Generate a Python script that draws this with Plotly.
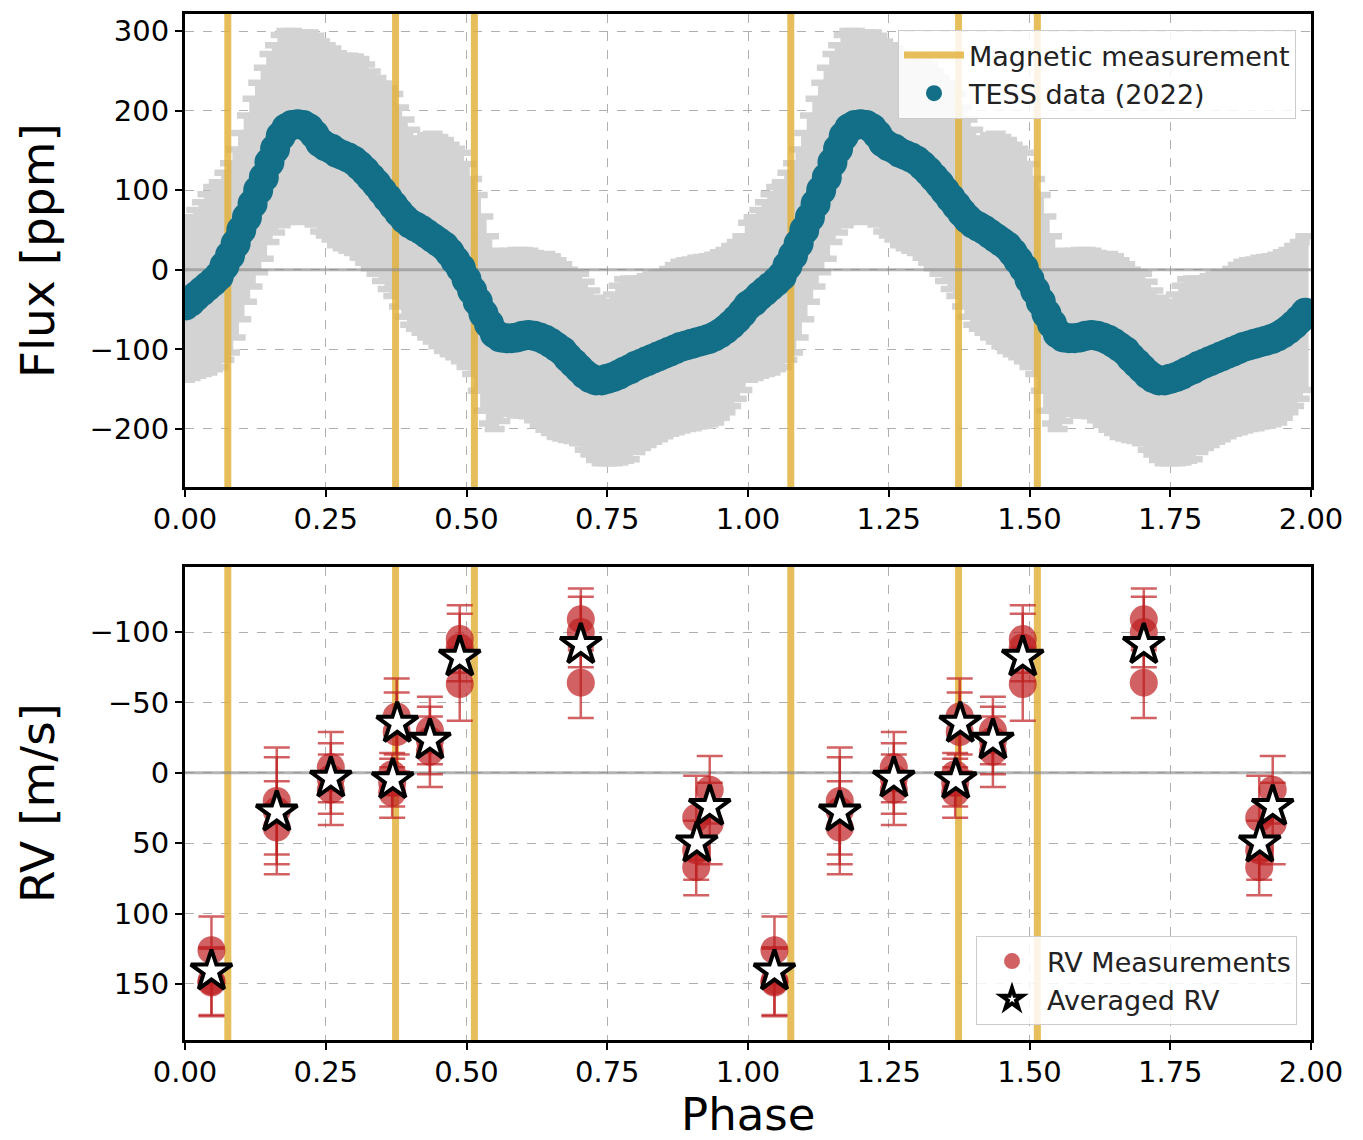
import plotly.graph_objects as go
import numpy as np

# ---------------- data ----------------
# TESS folded light curve (one cycle, phase 0.00 .. 0.99)
tess_phase = [round(i * 0.01, 2) for i in range(100)]
tess_flux = [
    -45, -40, -33, -27, -21, -15, -8, 5, 18, 33,
    50, 66, 83, 100, 116, 135, 152, 168, 178, 182,
    183, 182, 178, 170, 160, 155, 152, 147, 144, 141,
    137, 131, 124, 116, 108, 99, 90, 81, 72, 64,
    58, 54, 50, 45, 40, 35, 30, 22, 12, 2,
    -12, -26, -40, -55, -68, -80, -85, -86, -86, -85,
    -83, -82, -83, -85, -88, -92, -97, -102, -110, -117,
    -124, -131, -136, -139, -139, -137, -135, -132, -128, -125,
    -121, -118, -115, -112, -109, -106, -103, -100, -97, -95,
    -93, -91, -89, -87, -84, -80, -75, -69, -62, -54,
]
tess_err_plus = [
    104, 106, 108, 112, 116, 119, 118, 117, 116, 118,
    122, 128, 132, 135, 138, 136, 130, 127, 122, 118,
    114, 116, 120, 124, 127, 127, 126, 125, 125, 128,
    131, 134, 134, 133, 133, 135, 138, 140, 132, 125,
    118, 110, 115, 124, 131, 132, 133, 135, 140, 145,
    145, 140, 134, 122, 110, 104, 108, 109, 110, 110,
    108, 106, 104, 104, 108, 109, 109, 109, 110, 114,
    119, 116, 110, 104, 98, 97, 104, 112, 116, 114,
    110, 107, 107, 106, 105, 103, 104, 106, 107, 107,
    106, 106, 105, 104, 103, 102, 100, 99, 97, 96,
]
tess_err_minus = [
    93, 96, 100, 104, 108, 110, 114, 118, 122, 118,
    112, 106, 104, 103, 102, 100, 105, 112, 117, 120,
    123, 120, 116, 113, 112, 112, 114, 116, 117, 117,
    116, 116, 115, 114, 113, 113, 114, 114, 118, 123,
    127, 128, 129, 130, 130, 131, 132, 128, 122, 117,
    110, 105, 112, 122, 125, 120, 105, 95, 95, 98,
    100, 102, 106, 110, 113, 113, 113, 110, 104, 98,
    94, 95, 96, 100, 104, 106, 108, 110, 112, 113,
    108, 106, 105, 104, 104, 103, 103, 104, 105, 105,
    106, 106, 107, 107, 108, 106, 104, 102, 100, 97,
]

# magnetic measurement phases
mag_phase = [0.076, 0.374, 0.514]

# RV measurements (one cycle)
rv_phase = [0.047, 0.047, 0.047,
            0.163, 0.163, 0.163,
            0.259, 0.259, 0.259,
            0.368, 0.368, 0.368,
            0.376, 0.376,
            0.435, 0.435, 0.435,
            0.488, 0.488, 0.488,
            0.703, 0.703, 0.703,
            0.908, 0.908, 0.908,
            0.932, 0.932]
rv_val = [126, 148, 149,
          20, 27, 39,
          -4, 4, 12,
          1, 7, 14,
          -40, -29,
          -30, -23, -15,
          -95, -89, -63,
          -109, -100, -64,
          32, 55, 67,
          12, 36]
rv_err = [24, 24, 24,
          38, 38, 33,
          25, 25, 25,
          15, 17, 18,
          27, 28,
          24, 24, 25,
          24, 24, 26,
          22, 25, 25,
          30, 21, 20,
          24, 29]

# averaged RV
avg_phase = [0.047, 0.163, 0.259, 0.369, 0.377, 0.435, 0.488, 0.703, 0.909, 0.932]
avg_rv = [141, 28, 4, 5, -35, -23, -82, -91, 50, 24]

x_ticks = [0.0, 0.25, 0.5, 0.75, 1.0, 1.25, 1.5, 1.75, 2.0]
flux_ticks = [-200, -100, 0, 100, 200, 300]
rv_ticks = [-100, -50, 0, 50, 100, 150]

# ---------------- styles ----------------
W, H = 1363, 1140
TEAL = "#136e87"
GOLD = "rgba(226,176,56,0.82)"
GREY_ERR = "#d3d3d3"
RED = "rgba(190,30,32,0.70)"
FONT = "DejaVu Sans"

def dup(arr, shift=False):
    a = np.asarray(arr, dtype=float)
    if shift:
        return np.concatenate([a, a + 1.0])
    return np.concatenate([a, a])

fig = go.Figure()

# ---- top panel ----
fig.add_trace(go.Scatter(
    x=dup(tess_phase, True), y=dup(tess_flux),
    mode="markers", marker=dict(size=4, color="rgba(0,0,0,0)"),
    error_y=dict(type="data", array=dup(tess_err_plus), arrayminus=dup(tess_err_minus),
                 symmetric=False, color=GREY_ERR, thickness=6.5, width=10),
    showlegend=False, hoverinfo="skip", xaxis="x", yaxis="y"))

for k, p in enumerate(mag_phase + [m + 1 for m in mag_phase]):
    fig.add_trace(go.Scatter(
        x=[p, p], y=[-1000, 1000], mode="lines",
        line=dict(color=GOLD, width=7),
        name="Magnetic measurement", showlegend=(k == 0), legend="legend",
        hoverinfo="skip", xaxis="x", yaxis="y"))

fig.add_trace(go.Scatter(
    x=[0, 2], y=[0, 0], mode="lines", line=dict(color="rgba(140,140,140,0.65)", width=3),
    showlegend=False, hoverinfo="skip", xaxis="x", yaxis="y"))

fig.add_trace(go.Scatter(
    x=dup(tess_phase, True), y=dup(tess_flux),
    mode="markers", marker=dict(size=30, color=TEAL, line=dict(width=0)),
    name="TESS data (2022)", legend="legend", xaxis="x", yaxis="y"))

# ---- bottom panel ----
for k, p in enumerate(mag_phase + [m + 1 for m in mag_phase]):
    fig.add_trace(go.Scatter(
        x=[p, p], y=[-1000, 1000], mode="lines",
        line=dict(color=GOLD, width=7),
        showlegend=False, hoverinfo="skip", xaxis="x2", yaxis="y2"))

fig.add_trace(go.Scatter(
    x=[0, 2], y=[0, 0], mode="lines", line=dict(color="rgba(140,140,140,0.65)", width=3),
    showlegend=False, hoverinfo="skip", xaxis="x2", yaxis="y2"))

fig.add_trace(go.Scatter(
    x=dup(rv_phase, True), y=dup(rv_val),
    mode="markers", marker=dict(size=28, color=RED, line=dict(width=0)),
    error_y=dict(type="data", array=dup(rv_err), color=RED, thickness=2.5, width=13),
    name="RV Measurements", legend="legend2", xaxis="x2", yaxis="y2"))

fig.add_trace(go.Scatter(
    x=dup(avg_phase, True), y=dup(avg_rv),
    mode="markers", marker=dict(symbol="star", size=31, color="white",
                                line=dict(color="black", width=4)),
    name="Averaged RV", legend="legend2", xaxis="x2", yaxis="y2"))

# ---------------- layout ----------------
xdom = [185 / W, 1311 / W]
top_dom = [1 - 487 / H, 1 - 14 / H]
bot_dom = [1 - 1040 / H, 1 - 567 / H]

axis_common = dict(
    showline=True, linecolor="black", linewidth=3, mirror=True,
    ticks="outside", ticklen=7, tickwidth=2, tickcolor="black",
    showgrid=True, gridcolor="#b0b0b0", griddash="dash", gridwidth=1,
    zeroline=False, automargin=False,
    tickfont=dict(family=FONT, size=29, color="black"),
)

fig.update_layout(
    width=W, height=H,
    margin=dict(l=0, r=0, t=0, b=0, autoexpand=False),
    paper_bgcolor="white", plot_bgcolor="white",
    font=dict(family=FONT, color="black"),
    xaxis=dict(domain=xdom, anchor="y", range=[0, 2], tickvals=x_ticks,
               ticktext=[f"{v:.2f}" for v in x_ticks], ticklabelstandoff=-3, **axis_common),
    yaxis=dict(domain=top_dom, anchor="x", range=[-272.9, 321.4], tickvals=flux_ticks,
               **axis_common),
    xaxis2=dict(domain=xdom, anchor="y2", range=[0, 2], tickvals=x_ticks,
                ticktext=[f"{v:.2f}" for v in x_ticks], ticklabelstandoff=-3, **axis_common),
    yaxis2=dict(domain=bot_dom, anchor="x2", range=[189.8, -146.2], tickvals=rv_ticks,
                **axis_common),
    legend=dict(x=1296 / W, y=1 - 30 / H, xanchor="right", yanchor="top",
                bgcolor="rgba(255,255,255,0.85)", bordercolor="#cccccc", borderwidth=1,
                font=dict(family=FONT, size=27, color="#222222"), itemsizing="trace",
                itemwidth=60),
    legend2=dict(x=1297 / W, y=1 - 1025 / H, xanchor="right", yanchor="bottom",
                 bgcolor="rgba(255,255,255,0.85)", bordercolor="#cccccc", borderwidth=1,
                 font=dict(family=FONT, size=27, color="#222222"), itemsizing="trace",
                 itemwidth=60),
    annotations=[
        dict(text="Flux [ppm]", x=37 / W, y=1 - 251 / H, xref="paper", yref="paper",
             textangle=-90, showarrow=False, font=dict(family=FONT, size=47, color="black"),
             xanchor="center", yanchor="middle"),
        dict(text="RV [m/s]", x=37 / W, y=1 - 803 / H, xref="paper", yref="paper",
             textangle=-90, showarrow=False, font=dict(family=FONT, size=47, color="black"),
             xanchor="center", yanchor="middle"),
        dict(text="Phase", x=748 / W, y=1 - 1114 / H, xref="paper", yref="paper",
             showarrow=False, font=dict(family=FONT, size=45, color="black"),
             xanchor="center", yanchor="middle"),
    ],
)

fig.write_html("out.html")
